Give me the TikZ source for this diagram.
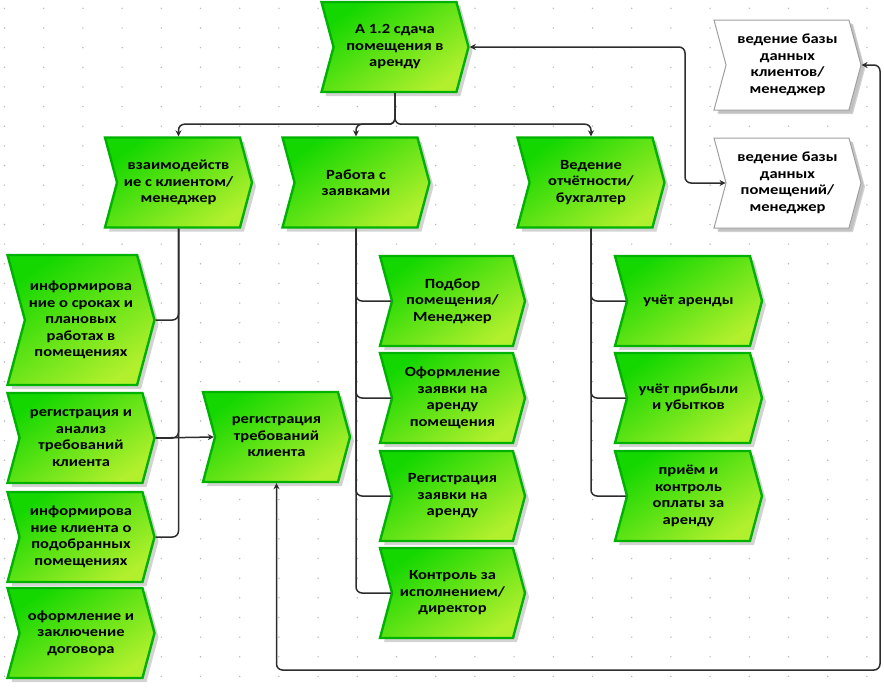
\documentclass[tikz,border=0pt]{standalone}
\usepackage{fontspec}
\setmainfont{Carlito}[FakeStretch=1.18]
\usetikzlibrary{shapes.symbols,shadows,arrows.meta}
\definecolor{fngreen}{RGB}{20,215,0}
\definecolor{fnlime}{RGB}{178,240,45}
\definecolor{fnedge}{RGB}{0,178,0}
\definecolor{lnk}{RGB}{45,45,45}
\tikzset{
  fn/.style={signal, signal from=west, signal to=east, signal pointer angle=150,
    minimum width=147pt, minimum height=90pt, inner sep=1pt, align=center,
    font=\bfseries\fontsize{14}{16.5}\selectfont,
    draw=fnedge, line width=2.4pt, top color=fngreen, bottom color=fnlime,
    shading angle=35,
    drop shadow={shadow xshift=4pt, shadow yshift=-4pt, opacity=0.35}},
  db/.style={fn, fill=white, draw=gray!75, line width=1pt,
    drop shadow={shadow xshift=3pt, shadow yshift=-3pt, opacity=0.2}},
  link/.style={draw=lnk, line width=1.5pt, rounded corners=6pt}
}
\begin{document}
\begin{tikzpicture}[x=1pt,y=-1pt,>={Stealth[length=6pt,width=6pt]}]
\useasboundingbox (0,0) rectangle (884,694);
% dotted grid
\foreach \i in {0,...,22}
  \foreach \j in {0,...,35}
    \fill[gray!55] (4.5+39.2*\i,8.3+19.65*\j) circle (0.8);
% main function
\node[fn] (top) at (395,47) {А 1.2 сдача\\помещения в\\аренду};
% databases
\node[db,top color=white,bottom color=white] (kl) at (787.5,65) {ведение базы\\данных\\клиентов/\\менеджер};
\node[db,top color=white,bottom color=white] (pom) at (787.5,183) {ведение базы\\данных\\помещений/\\менеджер};
% second level
\node[fn] (vz) at (178.5,182.5) {взаимодейств\\ие с клиентом/\\менеджер};
\node[fn] (rab) at (356,182.5) {Работа с\\заявками};
\node[fn] (ved) at (591,182.5) {Ведение\\отчётности/\\бухгалтер};
% clients
\node[fn,minimum height=130pt] (b1) at (81,320) {информирова\\ние о сроках и\\плановых\\работах в\\помещениях};
\node[fn] (b2) at (81,438) {регистрация и\\анализ\\требований\\клиента};
\node[fn] (b3) at (81,537) {информирова\\ние клиента о\\подобранных\\помещениях};
\node[fn] (b4) at (81,633) {оформление и\\заключение\\договора};
\node[fn] (reg) at (276.5,437) {регистрация\\требований\\клиента};
% requests
\node[fn,minimum width=145pt] (p1) at (452.5,301) {Подбор\\помещения/\\Менеджер};
\node[fn,minimum width=145pt] (p2) at (452.5,398) {Оформление\\заявки на\\аренду\\помещения};
\node[fn,minimum width=145pt] (p3) at (452.5,496) {Регистрация\\заявки на\\аренду};
\node[fn,minimum width=145pt] (p4) at (452.5,593) {Контроль за\\исполнением/\\директор};
% reports
\node[fn] (u1) at (688.5,301) {учёт аренды};
\node[fn] (u2) at (688.5,398) {учёт прибыли\\и убытков};
\node[fn] (u3) at (688.5,496) {приём и\\контроль\\оплаты за\\аренду};
% links
\draw[link,->] (top.south) -- ++(0,31) -| (vz.north);
\draw[link,->] (top.south) -- ++(0,31) -| (rab.north);
\draw[link,->] (top.south) -- ++(0,31) -| (ved.north);
\coordinate (bend) at (685,47);
\coordinate (loop) at (880,670);
\draw[link,<->] (top.east) -- (bend) |- (pom.west);
\draw[link,<->] (reg.south) |- (loop) |- (kl.east);
\foreach \b in {b1,b2,b3}
  \draw[link] (vz.south) |- (\b.east);
\draw[link,->] (b2.east) -- (reg.west);
\foreach \p in {p1,p2,p3,p4}
  \draw[link] (rab.south) |- (\p.west);
\foreach \u in {u1,u2,u3}
  \draw[link] (ved.south) |- (\u.west);
\end{tikzpicture}
\end{document}
